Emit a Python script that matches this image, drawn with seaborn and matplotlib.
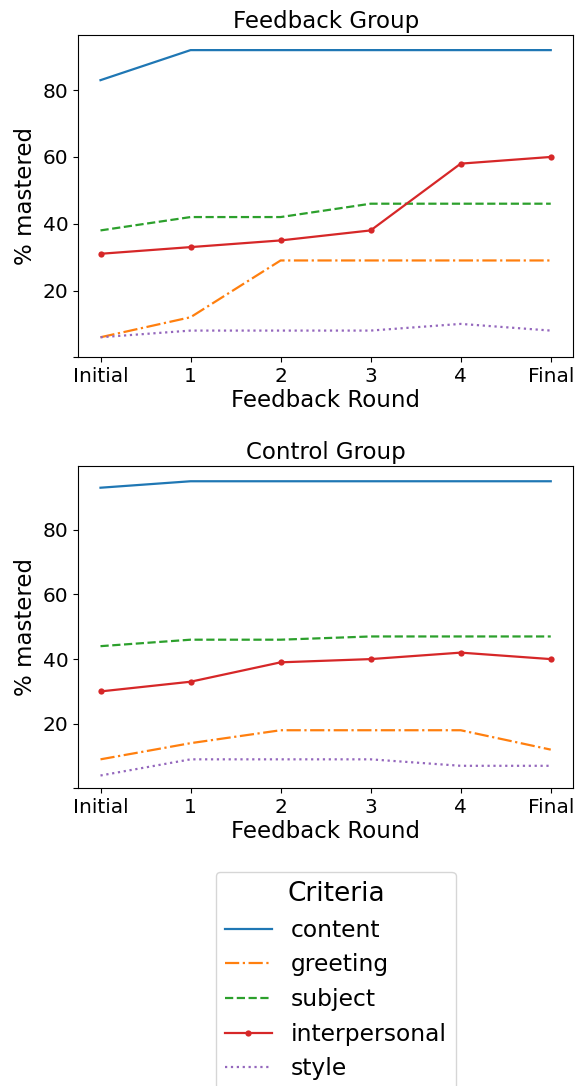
import numpy as np
import pandas as pd
import matplotlib
matplotlib.use("Agg")
import matplotlib.pyplot as plt
import seaborn as sns

rounds = ["Initial", "1", "2", "3", "4", "Final"]
criteria = ["content", "greeting", "subject", "interpersonal", "style"]

feedback_content = [83, 92, 92, 92, 92, 92]
feedback_greeting = [6, 12, 29, 29, 29, 29]
feedback_subject = [38, 42, 42, 46, 46, 46]
feedback_interpersonal = [31, 33, 35, 38, 58, 60]
feedback_style = [6, 8, 8, 8, 10, 8]

control_content = [93, 95, 95, 95, 95, 95]
control_greeting = [9, 14, 18, 18, 18, 12]
control_subject = [44, 46, 46, 47, 47, 47]
control_interpersonal = [30, 33, 39, 40, 42, 40]
control_style = [4, 9, 9, 9, 7, 7]

groups = {
    "Feedback Group": [feedback_content, feedback_greeting, feedback_subject,
                       feedback_interpersonal, feedback_style],
    "Control Group": [control_content, control_greeting, control_subject,
                      control_interpersonal, control_style],
}

colors = ["#1f77b4", "#ff7f0e", "#2ca02c", "#d62728", "#9467bd"]
linestyles = ["-", "-.", "--", "-", ":"]
markers = [None, None, None, "o", None]

fig = plt.figure(figsize=(5.82, 10.86), dpi=100)
ax1 = fig.add_axes([0.134, 0.671, 0.851, 0.297])
ax2 = fig.add_axes([0.134, 0.274, 0.851, 0.297])

for ax, (title, series) in zip([ax1, ax2], groups.items()):
    rows = []
    for c, vals in zip(criteria, series):
        for r, v in zip(rounds, vals):
            rows.append({"Round": r, "Value": v, "Criteria": c})
    df = pd.DataFrame(rows)
    for i, c in enumerate(criteria):
        sub = df[df["Criteria"] == c]
        sns.lineplot(data=sub, x="Round", y="Value", ax=ax, color=colors[i],
                     linestyle=linestyles[i], marker=markers[i], markersize=4.5,
                     markeredgewidth=0, linewidth=1.6, label=c, sort=False)
    ymax = max(max(s) for s in series) * 1.05
    ax.set_ylim(0, ymax)
    ax.set_yticks([0, 20, 40, 60, 80])
    ax.set_yticklabels(["", "20", "40", "60", "80"])
    ax.set_title(title, fontsize=16.5, pad=5)
    ax.set_xlabel("Feedback Round", fontsize=16.5, labelpad=2)
    ax.set_ylabel("% mastered", fontsize=16.5)
    ax.tick_params(labelsize=14.5)
    leg = ax.get_legend()
    if leg is not None:
        leg.remove()

handles, labels = ax1.get_legend_handles_labels()
fig.legend(handles, labels, title="Criteria", loc="upper center",
           bbox_to_anchor=(0.577, 0.208), fontsize=16.8, title_fontsize=19)

fig.savefig("out.png", dpi=100)
